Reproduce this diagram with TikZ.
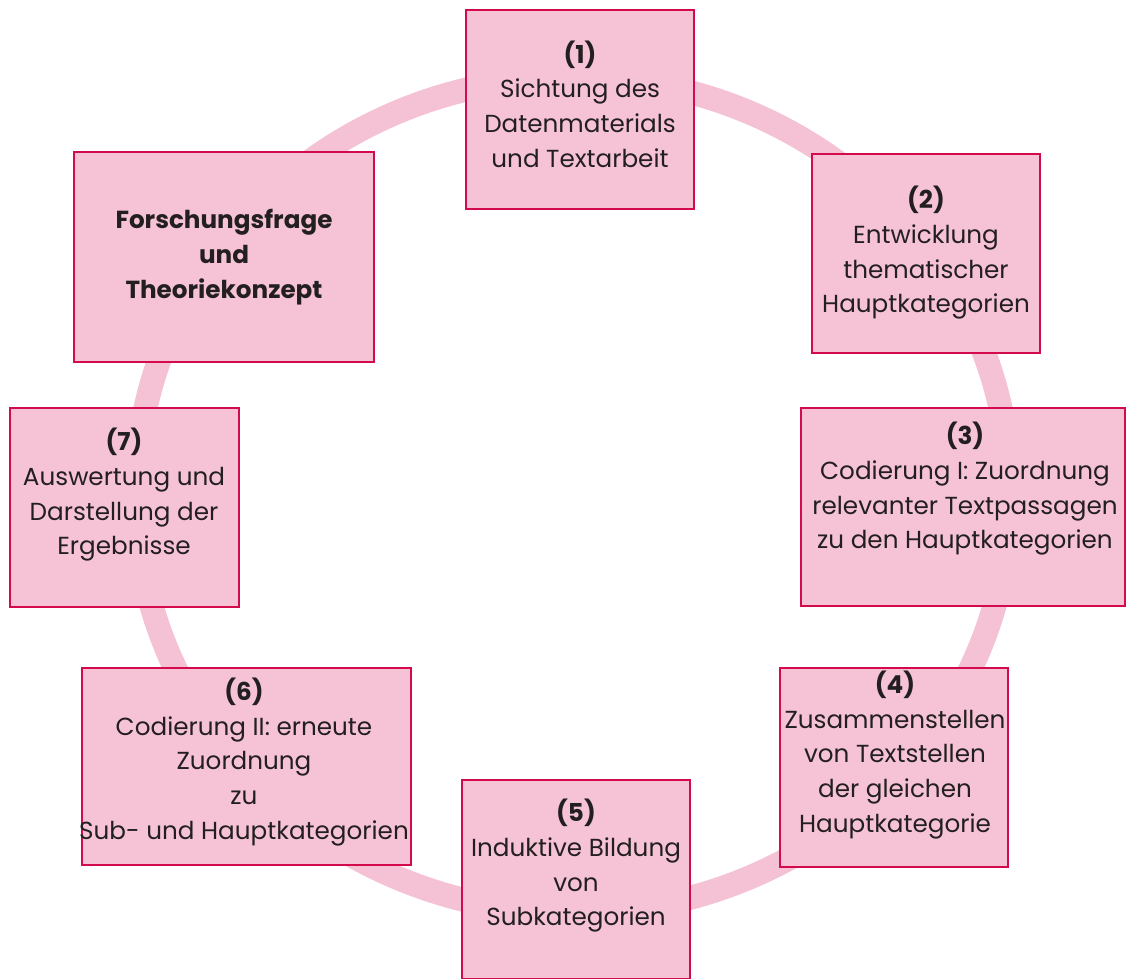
\documentclass[tikz,border=0pt]{standalone}
\usepackage{fontspec}
\setmainfont{Poppins}
\definecolor{ringpink}{HTML}{F5C1D4}
\definecolor{boxpink}{HTML}{F6C3D6}
\definecolor{boxborder}{HTML}{D30B4C}
\definecolor{inkgray}{HTML}{231F20}
\tikzset{
  stepbox/.style={draw=boxborder, fill=boxpink, line width=2.2pt, inner sep=0pt},
  steptext/.style={align=center, text=inkgray, font=\fontsize{18.5}{26}\selectfont, inner sep=0pt},
}
\begin{document}
\begin{tikzpicture}[x=0.75pt,y=-0.75pt]
    \useasboundingbox (0,0) rectangle (1126,978);
    % ring behind the steps
    \draw[ringpink, line width=18pt] (573,495) ellipse [x radius=437, y radius=418];
    % boxes
    \node[stepbox, minimum width=171pt, minimum height=149.25pt] (b1) at (580,109.5) {};
    \node[stepbox, minimum width=225pt, minimum height=157.5pt] (bF) at (224,257) {};
    \node[stepbox, minimum width=171pt, minimum height=149.25pt] (b2) at (926,253.5) {};
    \node[stepbox, minimum width=243pt, minimum height=148.5pt] (b3) at (963,507) {};
    \node[stepbox, minimum width=171pt, minimum height=149.25pt] (b4) at (894,767.5) {};
    \node[stepbox, minimum width=171pt, minimum height=149.25pt] (b5) at (576,879.5) {};
    \node[stepbox, minimum width=246.75pt, minimum height=147.75pt] (b6) at (246.5,766.5) {};
    \node[stepbox, minimum width=171.75pt, minimum height=149.25pt] (b7) at (124.5,507.5) {};
    % texts
    \node[steptext] (t1) at (580,104) {\textbf{(1)}\\Sichtung des\\Datenmaterials\\und Textarbeit};
    \node[steptext, font=\bfseries\fontsize{18.5}{26}\selectfont] (tF) at (224,257) {Forschungsfrage\\und\\Theoriekonzept};
    \node[steptext] (t2) at (926,253) {\textbf{(2)}\\Entwicklung\\thematischer\\Hauptkategorien};
    \node[steptext] (t3) at (965,489) {\textbf{(3)}\\Codierung I: Zuordnung\\relevanter Textpassagen\\zu den Hauptkategorien};
    \node[steptext] (t4) at (895,755) {\textbf{(4)}\\Zusammenstellen\\von Textstellen\\der gleichen\\Hauptkategorie};
    \node[steptext] (t5) at (576,866) {\textbf{(5)}\\Induktive Bildung\\von\\Subkategorien};
    \node[steptext] (t6) at (244,762) {\textbf{(6)}\\Codierung II: erneute\\Zuordnung\\zu\\Sub- und Hauptkategorien};
    \node[steptext] (t7) at (124,495) {\textbf{(7)}\\Auswertung und\\Darstellung der\\Ergebnisse};
\end{tikzpicture}
\end{document}
